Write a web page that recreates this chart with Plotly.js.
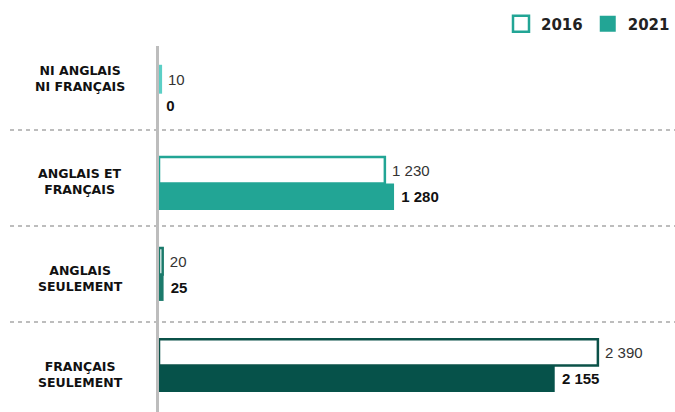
<!DOCTYPE html>
<html>
<head>
<meta charset="utf-8">
<script src="https://cdn.plot.ly/plotly-3.0.1.min.js"></script>
<style>html,body{margin:0;padding:0;background:#fff;}#chart{width:675px;height:412px;}</style>
</head>
<body>
<div id="chart"></div>
<script>
// ---- data ----
const categories = ['NI ANGLAIS<br>NI FRANÇAIS', 'ANGLAIS ET<br>FRANÇAIS', 'ANGLAIS<br>SEULEMENT', 'FRANÇAIS<br>SEULEMENT'];
const values2016 = [10, 1230, 20, 2390];
const values2021 = [0, 1280, 25, 2155];
const seriesNames = ['2016', '2021'];

// ---- styles ----
const outlineColors = ['#5ccfc6', '#22a595', '#1b7a6b', '#0b5148'];
const fillColors = ['#5ccfc6', '#22a595', '#1b7a6b', '#06524a'];
const legendColor = '#22a595';
const labelShift = [14, 2, -4, -9];

const traces = [
  {
    type: 'bar', orientation: 'h', name: seriesNames[0], showlegend: false,
    y: categories, x: values2016,
    marker: { color: '#ffffff', line: { color: outlineColors, width: 2.5 } },
    texttemplate: '\u00a0%{x:,}', textposition: 'outside', cliponaxis: false,
    textfont: { family: 'Liberation Sans', size: 15, color: '#333333' },
    hoverinfo: 'skip'
  },
  {
    type: 'bar', orientation: 'h', name: seriesNames[1], showlegend: false,
    y: categories, x: values2021,
    marker: { color: fillColors, line: { color: fillColors, width: 0 } },
    texttemplate: '\u00a0<b>%{x:,}</b>', textposition: 'outside', cliponaxis: false,
    textfont: { family: 'Liberation Sans', size: 15, color: '#111111' },
    hoverinfo: 'skip'
  },
  {
    type: 'scatter', mode: 'markers', name: seriesNames[0], x: [null], y: [null],
    marker: { symbol: 'square-open', size: 16, color: legendColor, line: { width: 2.5, color: legendColor } },
    hoverinfo: 'skip'
  },
  {
    type: 'scatter', mode: 'markers', name: seriesNames[1], x: [null], y: [null],
    marker: { symbol: 'square', size: 16, color: legendColor },
    hoverinfo: 'skip'
  }
];

const sepY = [130, 226, 322];
const shapes = sepY.map(p => ({
  type: 'line', xref: 'paper', yref: 'paper', layer: 'below',
  x0: (10 - 159) / 516, x1: 1, y0: (412 - p) / 366, y1: (412 - p) / 366,
  line: { color: '#a8a8a8', width: 1.5, dash: '4px,4px' }
}));

const annotations = categories.map((c, i) => ({
  xref: 'paper', yref: 'y', x: (80 - 159) / 516, y: c, yshift: labelShift[i],
  xanchor: 'center', yanchor: 'middle', align: 'center', showarrow: false,
  text: c, font: { family: 'DejaVu Sans', size: 12.5, weight: 'bold', color: '#111111' }
}));

const layout = {
  width: 675, height: 412,
  margin: { l: 159, r: 0, t: 46, b: 0 },
  paper_bgcolor: '#ffffff', plot_bgcolor: '#ffffff',
  separators: ', ',
  barmode: 'group', bargap: 0.42, bargroupgap: 0,
  showlegend: true,
  legend: {
    orientation: 'h', xref: 'container', yref: 'container',
    x: 1, xanchor: 'right', y: 0.982, yanchor: 'top',
    font: { family: 'DejaVu Sans', size: 15, weight: 'bold', color: '#222222' },
    itemwidth: 30, traceorder: 'normal'
  },
  xaxis: { range: [0, 2810], showticklabels: false, showgrid: false, zeroline: false, showline: false, fixedrange: true },
  yaxis: {
    type: 'category', categoryorder: 'array', categoryarray: categories,
    range: [3.51, -0.51], showticklabels: false, showgrid: false, zeroline: false,
    showline: true, linecolor: '#bdbdbd', linewidth: 3, ticks: '', fixedrange: true
  },
  shapes: shapes,
  annotations: annotations
};

Plotly.newPlot('chart', traces, layout, { displayModeBar: false, staticPlot: true });
</script>
</body>
</html>
